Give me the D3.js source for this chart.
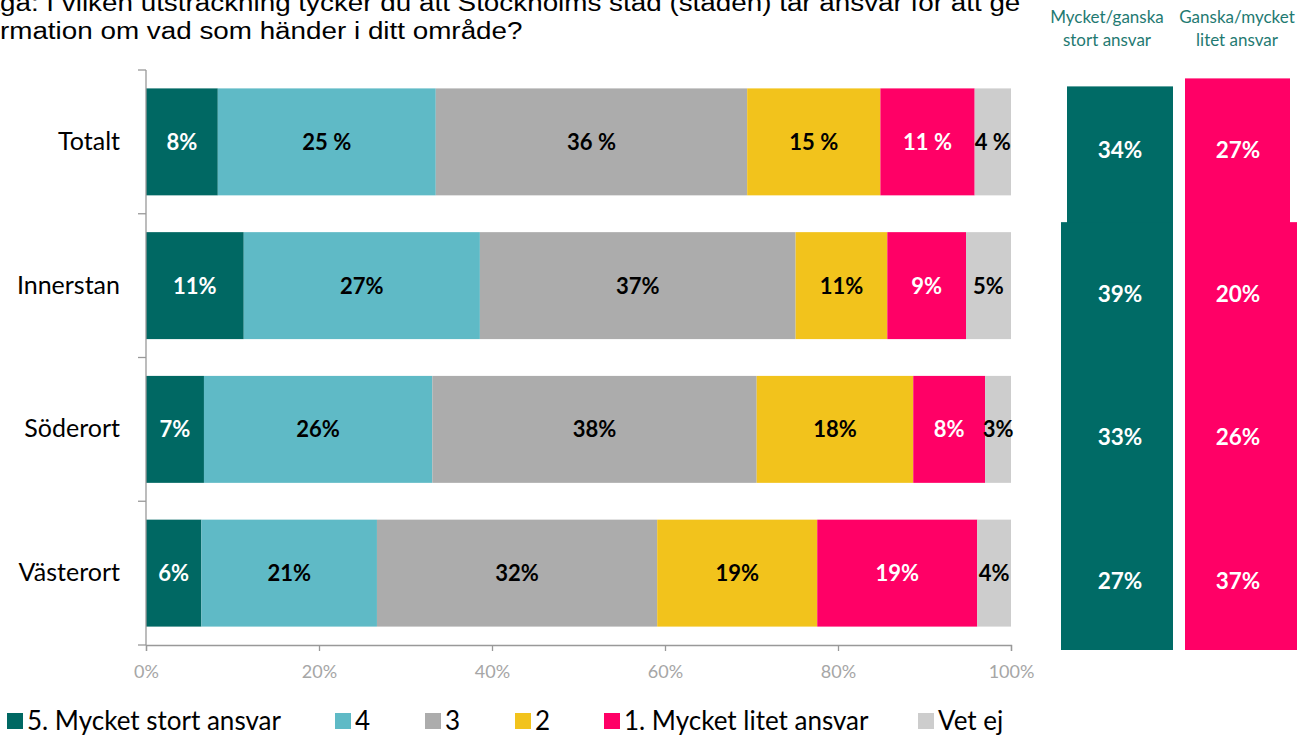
<!DOCTYPE html>
<html><head><meta charset="utf-8">
<script src="https://cdn.jsdelivr.net/npm/d3@7"></script>
<style>body{margin:0;background:#fff;overflow:hidden}svg{display:block}</style>
</head><body>
<svg id="c" width="1297" height="735"></svg>
<script>
const categories = ["Totalt", "Innerstan", "Söderort", "Västerort"];
const seriesNames = ["5. Mycket stort ansvar", "4", "3", "2", "1. Mycket litet ansvar", "Vet ej"];
const seriesColors = ["#006863", "#5fbac6", "#acacac", "#f2c31c", "#ff0066", "#cdcdcd"];
const labelColors = ["#fff", "#000", "#000", "#000", "#fff", "#000"];
const v5 = [8.3, 11.3, 6.7, 6.4];
const v4 = [25.2, 27.3, 26.4, 20.3];
const v3 = [36.0, 36.5, 37.5, 32.4];
const v2 = [15.4, 10.6, 18.1, 18.5];
const v1 = [10.9, 9.1, 8.3, 18.5];
const vVetEj = [4.2, 5.2, 3.0, 3.9];
const labels = [
  ["8%", "25 %", "36 %", "15 %", "11 %", "4 %"],
  ["11%", "27%", "37%", "11%", "9%", "5%"],
  ["7%", "26%", "38%", "18%", "8%", "3%"],
  ["6%", "21%", "32%", "19%", "19%", "4%"]
];
const xTicks = [0, 20, 40, 60, 80, 100];
const stortAnsvar = ["34%", "39%", "33%", "27%"];
const litetAnsvar = ["27%", "20%", "26%", "37%"];
const titleLines = ["Fråga: I vilken utsträckning tycker du att Stockholms stad (staden) tar ansvar för att ge", "information om vad som händer i ditt område?"];
const titleHidden = ["Frå", "info"];

const svg = d3.select("#c");
const font = "Lato, 'Open Sans', sans-serif";
const series = [v5, v4, v3, v2, v1, vVetEj];

const x = d3.scaleLinear().domain([0, 100]).range([146, 1011]);
const y = d3.scaleBand().domain(categories).range([70, 645]).paddingInner(0.256).paddingOuter(0.128);

// title (clipped on the left like the reference), horizontally stretched
const titleFont = "'Liberation Sans', Arial, sans-serif";
const titleSize = 23;
const stretch = 1.21;
titleLines.forEach((t, i) => {
  const tmp = svg.append("text").attr("font-family", titleFont).attr("font-size", titleSize).text(titleHidden[i]);
  const w = tmp.node().getComputedTextLength();
  tmp.remove();
  svg.append("text").attr("transform", `translate(${-w * stretch},${11 + i * 28}) scale(${stretch},1)`)
    .attr("font-family", titleFont).attr("font-size", titleSize).attr("fill", "#000").text(t);
});

// bars
categories.forEach((c, ci) => {
  let acc = 0;
  series.forEach((s, si) => {
    const x0 = acc, x1 = acc + s[ci];
    acc = x1;
    svg.append("rect").attr("x", x(x0)).attr("y", y(c)).attr("width", x(x1) - x(x0)).attr("height", y.bandwidth())
      .attr("fill", seriesColors[si]);
    svg.append("text").attr("x", (x(x0) + x(x1)) / 2).attr("y", y(c) + y.bandwidth() / 2 + 8)
      .attr("text-anchor", "middle").attr("font-family", font).attr("font-weight", "bold").attr("font-size", 22)
      .attr("fill", labelColors[si]).text(labels[ci][si]);
  });
});

// y axis
const axisColor = "#999";
svg.append("line").attr("x1", 146).attr("x2", 146).attr("y1", 70).attr("y2", 645).attr("stroke", axisColor).attr("stroke-width", 1.3);
const bounds = categories.map(c => y(c) - y.step() * y.paddingInner() / 2).concat([645]);
bounds.forEach(b => svg.append("line").attr("x1", 138).attr("x2", 146).attr("y1", b).attr("y2", b).attr("stroke", axisColor).attr("stroke-width", 1.3));
categories.forEach(c => {
  svg.append("text").attr("x", 120).attr("y", y(c) + y.bandwidth() / 2 + 8).attr("text-anchor", "end")
    .attr("font-family", font).attr("font-size", 25).attr("fill", "#000").text(c);
});

// x axis
const xa = svg.append("g").attr("transform", "translate(0,645)")
  .call(d3.axisBottom(x).tickValues(xTicks).tickFormat(d => d + "%").tickSize(6).tickPadding(14));
xa.select(".domain").attr("stroke", axisColor).attr("stroke-width", 1.3);
xa.selectAll(".tick line").attr("stroke", axisColor).attr("stroke-width", 1.3);
xa.selectAll(".tick text").attr("fill", "#a6a6a6").attr("font-family", font).attr("font-size", 18);

// summary columns
const teal = "#006b66", pink = "#ff0066", hdr = "#1f7a72";
const lowTop = y(categories[1]) - 10;
svg.append("rect").attr("x", 1067).attr("y", y(categories[0]) - 2).attr("width", 106).attr("height", 650 - y(categories[0]) + 2).attr("fill", teal);
svg.append("rect").attr("x", 1061).attr("y", lowTop).attr("width", 112).attr("height", 650 - lowTop).attr("fill", teal);
svg.append("rect").attr("x", 1185).attr("y", y(categories[0]) - 10).attr("width", 105).attr("height", 650 - y(categories[0]) + 10).attr("fill", pink);
svg.append("rect").attr("x", 1185).attr("y", lowTop).attr("width", 120).attr("height", 650 - lowTop).attr("fill", pink);
categories.forEach((c, ci) => {
  const cy = y(c) + y.bandwidth() / 2 + 16;
  svg.append("text").attr("x", 1120).attr("y", cy).attr("text-anchor", "middle").attr("font-family", font)
    .attr("font-weight", "bold").attr("font-size", 22.5).attr("fill", "#fff").text(stortAnsvar[ci]);
  svg.append("text").attr("x", 1238).attr("y", cy).attr("text-anchor", "middle").attr("font-family", font)
    .attr("font-weight", "bold").attr("font-size", 22.5).attr("fill", "#fff").text(litetAnsvar[ci]);
});
[["Mycket/ganska", "stort ansvar", 1107], ["Ganska/mycket", "litet ansvar", 1237]].forEach(([a, b, cx]) => {
  svg.append("text").attr("x", cx).attr("y", 23).attr("text-anchor", "middle").attr("font-family", font).attr("font-size", 17).attr("fill", hdr).text(a);
  svg.append("text").attr("x", cx).attr("y", 46).attr("text-anchor", "middle").attr("font-family", font).attr("font-size", 17).attr("fill", hdr).text(b);
});

// legend
const legendX = [7, 335, 425, 515, 604, 918];
seriesNames.forEach((n, i) => {
  svg.append("rect").attr("x", legendX[i]).attr("y", 713).attr("width", 16).attr("height", 16).attr("fill", seriesColors[i]);
  svg.append("text").attr("x", legendX[i] + 20).attr("y", 730).attr("font-family", font).attr("font-size", 26).attr("fill", "#000").text(n);
});
</script>
</body></html>
